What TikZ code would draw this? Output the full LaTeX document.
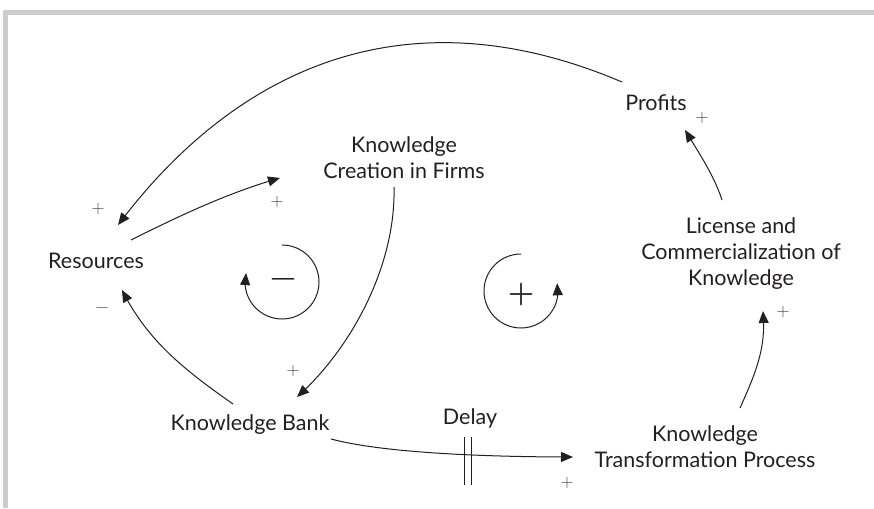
\documentclass[tikz,border=0pt]{standalone}
\usepackage{fontspec}
\setmainfont{Lato}
\newfontfamily\symfont[FakeBold=0.8]{Latin Modern Roman}
\newfontfamily\smallsym{Latin Modern Roman}
\usetikzlibrary{arrows.meta,bending}
\definecolor{ink}{HTML}{231F20}
\definecolor{framegray}{HTML}{CDCDCD}
\begin{document}
\begin{tikzpicture}[x=1pt,y=-1pt,
  lbl/.style={font=\fontsize{21.5}{26}\selectfont, text=ink, align=center, inner sep=0pt},
  sgn/.style={font=\smallsym\fontsize{18}{18}\selectfont, text=black!75, inner sep=0pt},
  bigsgn/.style={font=\symfont\fontsize{36}{36}\selectfont, text=ink, inner sep=0pt},
  arr/.style={draw=ink, line width=1pt, -{Triangle[length=12pt,width=10pt]}},
  lnk/.style={draw=ink, line width=1pt}]
\useasboundingbox (0,0) rectangle (874,508);
\fill[framegray] (3,10) rectangle (874,15);
\fill[framegray] (3,10) rectangle (8,508);

% nodes
\node[lbl] (res) at (96,261) {Resources};
\node[lbl] (kb) at (250,425) {Knowledge Bank};
\node[lbl] (kc) at (404,158) {Knowledge\\Creation in Firms};
\node[lbl] (prof) at (656,103) {Profits};
\node[lbl] (lic) at (741,254) {License and\\Commercialization of\\Knowledge};
\node[lbl] (ktp) at (705,447) {Knowledge\\Transformation Process};
\node[lbl] (delay) at (470,418) {Delay};

% loop centres
\coordinate (negc) at (282,282);
\coordinate (posc) at (521,291);

% connectors
\draw[arr] ([shift={(-34,-21)}]prof.center) .. controls +(-221,-94) and +(114,-152) .. ([shift={(22,-36)}]res.center);
\draw[arr] ([shift={(35,-21)}]res.center) .. controls +(50,-25) and +(-50,14) .. ([shift={(-124,20)}]kc.center);
\draw[arr] ([shift={(-10,29)}]kc.center) .. controls +(2,80) and +(53,-47) .. ([shift={(47,-28)}]kb.center);
\draw[arr] ([shift={(-17,-21)}]kb.center) .. controls +(-50,-35) and +(25,50) .. ([shift={(26,29)}]res.center);
\draw[arr] ([shift={(81,14)}]kb.center) .. controls +(60,16) and +(-60,0) .. ([shift={(-132,10)}]ktp.center);
\draw[arr] ([shift={(35,-39)}]ktp.center) .. controls +(18,-40) and +(3,35) .. ([shift={(22,57)}]lic.center);
\draw[arr] ([shift={(-19,-54)}]lic.center) .. controls +(-8,-25) and +(12,20) .. ([shift={(29,27)}]prof.center);

% delay marks
\draw[lnk] ([shift={(-5.5,19)}]delay.center) -- +(0,48);
\draw[lnk] ([shift={(1,19)}]delay.center) -- +(0,48);

% loops
\draw[arr] ([shift={(0,-37)}]negc) arc[start angle=-90, end angle=194, radius=37];
\draw[arr] ([shift={(0,-37)}]posc) arc[start angle=-90, end angle=-372, radius=37];
\node[bigsgn] (negs) at (283,283) {−};
\node[bigsgn] (poss) at (521,294) {+};

% polarity signs
\node[sgn] (s1) at (98,209) {+};
\node[sgn] (s2) at (277,202) {+};
\node[sgn] (s3) at (102,310) {−};
\node[sgn] (s4) at (293,371) {+};
\node[sgn] (s5) at (702,118) {+};
\node[sgn] (s6) at (783,312) {+};
\node[sgn] (s7) at (567,483) {+};
\end{tikzpicture}
\end{document}
